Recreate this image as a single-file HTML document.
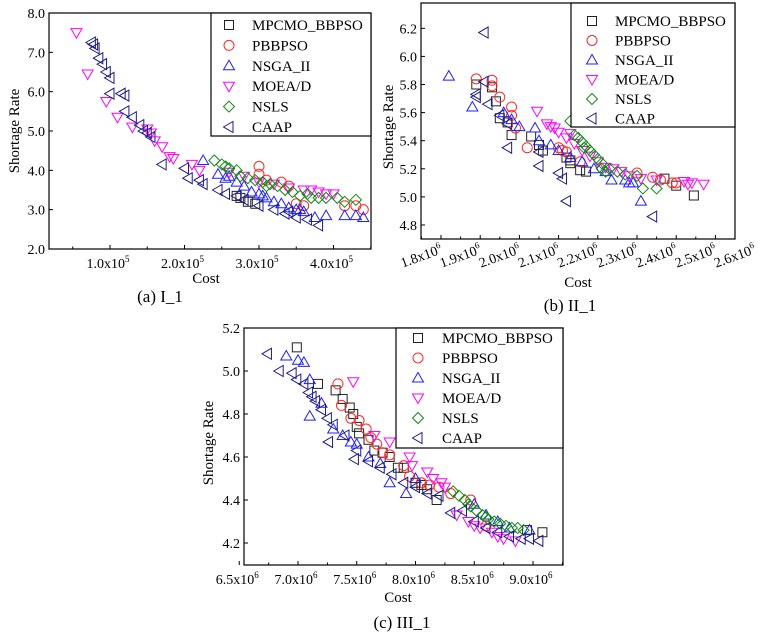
<!DOCTYPE html>
<html><head><meta charset="utf-8"><style>
html,body{margin:0;padding:0;background:#fff}
svg{display:block;font-family:"Liberation Serif",serif}
</style></head><body>
<svg id="fig" width="762" height="635" viewBox="0 0 762 635"></svg>
<script>
// ===== Panel (a) I_1 data: cost (x1e5), shortage rate =====
const aMPCMO_x=[2.7,2.75,2.85,2.95];
const aMPCMO_y=[3.35,3.3,3.2,3.15];
const aPBBPSO_x=[3.0,3.0,3.1,3.3,3.4,3.5,3.6,4.15,4.3,4.4];
const aPBBPSO_y=[4.1,3.9,3.75,3.7,3.6,3.15,3.1,3.1,3.1,3.0];
const aNSGA_x=[2.25,2.45,2.55,2.6,2.7,2.8,2.9,3.0,3.05,3.1,3.2,3.3,3.4,3.5,3.55,3.6,3.75,3.9,4.15,4.3,4.4];
const aNSGA_y=[4.25,3.9,3.8,3.85,3.7,3.6,3.45,3.4,3.35,3.3,3.2,3.15,3.05,3.0,3.0,2.95,2.8,2.85,2.85,2.85,2.8];
const aMOEAD_x=[0.55,0.7,0.95,1.1,1.3,1.5,1.55,1.6,1.7,1.8,1.85,2.1,2.2,2.6,2.8,3.0,3.2,3.4,3.6,3.7,3.8,3.9,4.0];
const aMOEAD_y=[7.5,6.45,5.75,5.35,5.1,5.05,4.95,4.75,4.6,4.35,4.3,4.15,4.0,3.95,3.85,3.7,3.65,3.55,3.5,3.5,3.45,3.4,3.4];
const aNSLS_x=[2.4,2.5,2.55,2.6,2.7,2.75,2.85,2.95,3.05,3.1,3.15,3.25,3.35,3.45,3.55,3.65,3.7,3.8,3.9,4.05,4.15,4.3];
const aNSLS_y=[4.25,4.15,4.1,4.05,4.0,3.85,3.8,3.75,3.7,3.6,3.65,3.6,3.5,3.45,3.35,3.4,3.3,3.3,3.3,3.3,3.2,3.25];
const aCAAP_x=[0.75,0.78,0.8,0.85,0.9,0.95,1.0,1.0,1.15,1.2,1.2,1.3,1.4,1.45,1.5,1.55,1.7,2.0,2.05,2.2,2.25,2.45,2.55,2.7,2.8,3.0,3.2,3.35,3.4,3.5,3.65,3.8];
const aCAAP_y=[7.25,7.2,7.1,6.85,6.7,6.5,6.35,5.95,5.95,5.9,5.5,5.35,5.15,5.0,4.95,4.85,4.15,4.05,3.8,3.75,3.65,3.5,3.4,3.35,3.25,3.1,3.0,2.9,2.95,2.8,2.75,2.6];
const aXTicks=[1,2,3,4];
const aYTicks=[2,3,4,5,6,7,8];

// ===== Panel (b) II_1 data: cost (x1e6) =====
const bMPCMO_x=[1.89,1.93,1.94,1.95,1.97,1.98,2.03,2.05,2.06,2.12,2.13,2.13,2.155,2.17,2.37,2.40,2.445];
const bMPCMO_y=[5.8,5.78,5.68,5.56,5.53,5.44,5.43,5.37,5.33,5.28,5.26,5.24,5.19,5.18,5.13,5.08,5.01];
const bPBBPSO_x=[1.89,1.93,1.93,1.95,1.98,1.98,1.99,2.02,2.1,2.11,2.12,2.155,2.3,2.34,2.36,2.39,2.40];
const bPBBPSO_y=[5.84,5.83,5.79,5.71,5.64,5.58,5.49,5.35,5.35,5.33,5.32,5.25,5.17,5.14,5.12,5.1,5.1];
const bNSGA_x=[1.82,1.88,1.96,1.98,2.0,2.04,2.05,2.08,2.1,2.13,2.16,2.19,2.22,2.235,2.27,2.28,2.29,2.31];
const bNSGA_y=[5.86,5.64,5.60,5.55,5.50,5.49,5.4,5.37,5.33,5.28,5.25,5.2,5.18,5.12,5.12,5.1,5.1,4.97];
const bMOEAD_x=[2.045,2.07,2.08,2.09,2.1,2.12,2.13,2.14,2.16,2.18,2.2,2.22,2.24,2.26,2.28,2.31,2.35,2.42,2.43,2.44,2.47];
const bMOEAD_y=[5.61,5.52,5.5,5.49,5.46,5.42,5.45,5.38,5.33,5.29,5.25,5.21,5.2,5.18,5.15,5.13,5.12,5.11,5.09,5.1,5.09];
const bNSLS_x=[2.13,2.14,2.15,2.16,2.165,2.17,2.18,2.19,2.2,2.21,2.21,2.22,2.23,2.25,2.27,2.3,2.315,2.35];
const bNSLS_y=[5.54,5.44,5.42,5.39,5.35,5.36,5.33,5.3,5.27,5.24,5.2,5.18,5.2,5.18,5.16,5.15,5.06,5.06];
const bCAAP_x=[1.91,1.91,1.89,1.89,1.92,1.95,1.97,1.97,2.05,2.05,2.1,2.11,2.12,2.34];
const bCAAP_y=[6.17,5.82,5.73,5.71,5.66,5.58,5.52,5.35,5.32,5.22,5.17,5.13,4.97,4.86];
const bXTicks=[1.8,1.9,2.0,2.1,2.2,2.3,2.4,2.5,2.6];
const bYTicks=[4.8,5.0,5.2,5.4,5.6,5.8,6.0,6.2];

// ===== Panel (c) III_1 data: cost (x1e6) =====
const cMPCMO_x=[6.99,7.17,7.32,7.38,7.44,7.47,7.5,7.52,7.6,7.65,7.72,7.78,7.85,7.9,8.0,8.05,8.1,8.18,8.95,9.08];
const cMPCMO_y=[5.11,4.94,4.91,4.87,4.83,4.8,4.74,4.71,4.68,4.63,4.62,4.6,4.55,4.55,4.48,4.47,4.45,4.4,4.26,4.25];
const cPBBPSO_x=[7.34,7.37,7.45,7.52,7.58,7.62,7.67,7.72,7.78,7.9,7.95,8.05,8.12,8.2,8.3,8.47,8.6];
const cPBBPSO_y=[4.94,4.84,4.78,4.77,4.73,4.69,4.66,4.62,4.61,4.56,4.51,4.48,4.47,4.46,4.43,4.4,4.28];
const cNSGA_x=[6.9,7.0,7.05,7.1,7.1,7.2,7.3,7.38,7.45,7.5,7.6,7.7,7.78,7.92,8.0,8.5,8.6,8.7,8.8,8.97];
const cNSGA_y=[5.07,5.05,5.04,4.96,4.79,4.85,4.73,4.7,4.67,4.66,4.6,4.57,4.48,4.43,4.5,4.38,4.33,4.3,4.27,4.26];
const cMOEAD_x=[7.47,7.65,7.78,7.95,7.97,8.1,8.15,8.22,8.25,8.35,8.45,8.5,8.55,8.65,8.7,8.75,8.85];
const cMOEAD_y=[4.95,4.7,4.67,4.6,4.56,4.53,4.5,4.48,4.46,4.33,4.3,4.28,4.27,4.25,4.23,4.22,4.21];
const cNSLS_x=[8.32,8.37,8.42,8.45,8.47,8.52,8.57,8.6,8.62,8.67,8.72,8.77,8.82,8.87,8.92];
const cNSLS_y=[4.44,4.42,4.4,4.38,4.37,4.35,4.33,4.32,4.31,4.3,4.29,4.28,4.27,4.27,4.26];
const cCAAP_x=[6.74,6.84,6.95,6.99,7.05,7.09,7.12,7.15,7.2,7.25,7.26,7.3,7.4,7.48,7.5,7.6,7.7,7.8,7.9,8.0,8.1,8.2,8.3,8.4,8.5,8.6,8.7,8.8,8.9,8.97,9.05];
const cCAAP_y=[5.08,5.0,4.99,4.96,4.94,4.9,4.88,4.86,4.82,4.78,4.67,4.75,4.7,4.59,4.63,4.58,4.55,4.52,4.48,4.46,4.43,4.42,4.34,4.35,4.3,4.27,4.25,4.23,4.22,4.22,4.21];
const cXTicks=[6.5,7.0,7.5,8.0,8.5,9.0];
const cYTicks=[4.2,4.4,4.6,4.8,5.0,5.2];

const seriesNames=["MPCMO_BBPSO","PBBPSO","NSGA_II","MOEA/D","NSLS","CAAP"];

const NS="http://www.w3.org/2000/svg";
const svg=document.getElementById('fig');
function mk(tag,attrs,parent){const e=document.createElementNS(NS,tag);for(const k in attrs)e.setAttribute(k,attrs[k]);(parent||svg).appendChild(e);return e;}

const styles=[
 {shape:'square',color:'#222222'},
 {shape:'circle',color:'#ff2a2a'},
 {shape:'up',color:'#1f1fff'},
 {shape:'down',color:'#ff00ff'},
 {shape:'diamond',color:'#138a13'},
 {shape:'left',color:'#1c1c8a'}
];
function marker(g,shape,color,x,y){
  const r=5,a={fill:'none',stroke:color,'stroke-width':1};
  let e;
  if(shape==='square')e=mk('rect',Object.assign({x:x-4.5,y:y-4.5,width:9,height:9},a),g);
  else if(shape==='circle')e=mk('circle',Object.assign({cx:x,cy:y,r:5},a),g);
  else{
    let p;
    if(shape==='up')p=[[x,y-r-0.5],[x+r+0.5,y+r-1],[x-r-0.5,y+r-1]];
    else if(shape==='down')p=[[x,y+r+0.5],[x+r+0.5,y-r+1],[x-r-0.5,y-r+1]];
    else if(shape==='diamond')p=[[x,y-r-0.5],[x+r+0.5,y],[x,y+r+0.5],[x-r-0.5,y]];
    else p=[[x-r-0.5,y],[x+r-1,y-r-0.5],[x+r-1,y+r+0.5]];
    e=mk('polygon',Object.assign({points:p.map(q=>q.join(',')).join(' ')},a),g);
  }
  return e;
}

function panel(cfg){
  const g=mk('g',{});
  
  
  const X=v=>cfg.x0+(v-cfg.xv0)*cfg.xs;
  const Y=v=>cfg.y0-(v-cfg.yv0)*cfg.ys;
  const fr=mk('rect',{x:cfg.L,y:cfg.T,width:cfg.R-cfg.L,height:cfg.B-cfg.T,fill:'none',stroke:'#000','stroke-width':1.2},g);
  
  
  cfg.series.forEach((s,i)=>{
    const sg=mk('g',{},g);
    
    
    s[0].forEach((xv,j)=>{
      const m=marker(sg,styles[i].shape,styles[i].color,X(xv),Y(s[1][j]));
      
      
    });
  });
  cfg.yt.forEach(v=>{
    const y=Y(v);
    mk('line',{x1:cfg.L,x2:cfg.L+4,y1:y,y2:y,stroke:'#000'},g);
    const t=mk('text',{x:cfg.L-4,y:y+5,'text-anchor':'end','font-size':14},g);
    t.textContent=v.toFixed(1);
    
    
  });
  cfg.xt.forEach((v,k)=>{
    const x=X(v);
    if(x<=cfg.R+1){mk('line',{x1:x,x2:x,y1:cfg.B,y2:cfg.B-4,stroke:'#000'},g);}
    const h=x+cfg.minor;
    if(h<cfg.R && cfg.minor)mk('line',{x1:h,x2:h,y1:cfg.B,y2:cfg.B-2.5,stroke:'#000'},g);
    const hl=x-cfg.minor;
    if(k===0&&hl>cfg.L&&cfg.minor)mk('line',{x1:hl,x2:hl,y1:cfg.B,y2:cfg.B-2.5,stroke:'#000'},g);
    let t;
    if(cfg.rot){
      t=mk('text',{x:x+2,y:cfg.B+14,'text-anchor':'end','font-size':14,transform:`rotate(-20 ${x+2} ${cfg.B+14})`},g);
    }else{
      t=mk('text',{x:x-2,y:cfg.B+19,'text-anchor':'middle','font-size':14},g);
    }
    
    
    const a=document.createElementNS(NS,'tspan');a.textContent=v.toFixed(1)+'x10';t.appendChild(a);
    const b=document.createElementNS(NS,'tspan');b.setAttribute('dy',-6);b.setAttribute('font-size',9);b.textContent=cfg.exp;t.appendChild(b);
  });
  const yt=mk('text',{x:0,y:0,'font-size':15,'text-anchor':'middle',transform:`translate(${cfg.ytx},${cfg.yty}) rotate(-90)`},g);
  yt.textContent='Shortage Rate';
  
  
  const xt=mk('text',{x:cfg.xtx,y:cfg.xty,'font-size':15,'text-anchor':'middle'},g);
  xt.textContent='Cost';
  
  
  const cap=mk('text',{x:cfg.capx,y:cfg.capy,'font-size':17,'text-anchor':'middle'},g);
  cap.textContent=cfg.cap;
  
  
  const lg=mk('g',{},g);
  
  
  const lb=mk('rect',{x:cfg.lg[0],y:cfg.lg[1],width:cfg.lg[2]-cfg.lg[0],height:cfg.lg[3]-cfg.lg[1],fill:'#fff',stroke:'#000','stroke-width':1.2},lg);
  
  
  seriesNames.forEach((n,i)=>{
    const y=cfg.lrow0+i*cfg.lstep;
    const m=marker(lg,styles[i].shape,styles[i].color,cfg.lmx,y);
    
    
    const t=mk('text',{x:cfg.ltx,y:y+5,'font-size':15},lg);
    t.textContent=n;
    
    
  });
}

panel({id:'panel-a',L:49,R:371,T:13,B:249,x0:110,xv0:1,xs:74.5,y0:249,yv0:2,ys:236/6,
  series:[[aMPCMO_x,aMPCMO_y],[aPBBPSO_x,aPBBPSO_y],[aNSGA_x,aNSGA_y],[aMOEAD_x,aMOEAD_y],[aNSLS_x,aNSLS_y],[aCAAP_x,aCAAP_y]],
  xt:aXTicks,yt:aYTicks,exp:'5',minor:37.25,rot:false,
  ytx:19,yty:131,xtx:206,xty:283,capx:160,capy:302,cap:'(a)  I_1',
  lg:[211,13,371,136],lmx:229,ltx:252,lrow0:25,lstep:20.4});

panel({id:'panel-b',L:421,R:735,T:3,B:239,x0:441,xv0:1.8,xs:392,y0:225,yv0:4.8,ys:140.5,
  series:[[bMPCMO_x,bMPCMO_y],[bPBBPSO_x,bPBBPSO_y],[bNSGA_x,bNSGA_y],[bMOEAD_x,bMOEAD_y],[bNSLS_x,bNSLS_y],[bCAAP_x,bCAAP_y]],
  xt:bXTicks,yt:bYTicks,exp:'6',minor:19.6,rot:true,
  ytx:393,yty:127,xtx:578,xty:287,capx:570,capy:311,cap:'(b)  II_1',
  lg:[571,3,735,127],lmx:592,ltx:615,lrow0:21,lstep:19.5});

panel({id:'panel-c',L:244,R:563,T:328,B:565,x0:298,xv0:7.0,xs:117.5,y0:543,yv0:4.2,ys:215,
  series:[[cMPCMO_x,cMPCMO_y],[cPBBPSO_x,cPBBPSO_y],[cNSGA_x,cNSGA_y],[cMOEAD_x,cMOEAD_y],[cNSLS_x,cNSLS_y],[cCAAP_x,cCAAP_y]],
  xt:cXTicks,yt:cYTicks,exp:'6',minor:29.4,rot:false,
  ytx:213,yty:443,xtx:398,xty:602,capx:402,capy:628,cap:'(c)  III_1',
  lg:[396,328,563,448],lmx:418,ltx:442,lrow0:338,lstep:20});
</script>
</body></html>
